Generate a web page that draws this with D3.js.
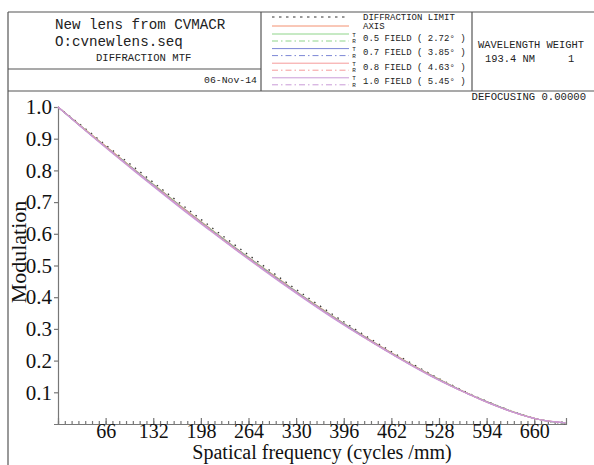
<!DOCTYPE html>
<html>
<head>
<meta charset="utf-8">
<script src="https://cdn.jsdelivr.net/npm/d3@7"></script>
<style>
  body { margin: 0; background: #fff; }
  svg { display: block; }
  .mono { font-family: "Liberation Mono", "Courier New", monospace; fill: #222; }
  .serif { font-family: "Liberation Serif", "Times New Roman", serif; fill: #111; }
</style>
</head>
<body>
<div id="chart"></div>
<script>
// spatial frequency (cycles/mm) where curves were read
const freqs = [0, 35, 70, 105, 140, 175, 210, 245, 280, 315, 350, 385, 420, 455, 490, 525, 560, 595, 630, 665, 703];

const diffLimit = [1, 0.937, 0.873, 0.811, 0.748, 0.686, 0.625, 0.565, 0.507, 0.449, 0.393, 0.339, 0.287, 0.238, 0.191, 0.147, 0.107, 0.071, 0.040, 0.015, 0.001];
const axisMtf   = [1, 0.934, 0.869, 0.805, 0.742, 0.679, 0.618, 0.558, 0.500, 0.443, 0.387, 0.334, 0.283, 0.234, 0.188, 0.145, 0.105, 0.070, 0.039, 0.015, 0.003];
const f05T = [1, 0.933, 0.868, 0.804, 0.741, 0.678, 0.617, 0.557, 0.499, 0.442, 0.386, 0.333, 0.282, 0.233, 0.187, 0.144, 0.104, 0.069, 0.039, 0.015, 0.003];
const f05R = [1, 0.934, 0.868, 0.804, 0.741, 0.678, 0.617, 0.557, 0.499, 0.442, 0.386, 0.333, 0.282, 0.233, 0.187, 0.144, 0.105, 0.070, 0.039, 0.015, 0.003];
const f07T = [1, 0.932, 0.867, 0.802, 0.739, 0.676, 0.615, 0.555, 0.497, 0.440, 0.384, 0.331, 0.281, 0.232, 0.186, 0.143, 0.104, 0.069, 0.038, 0.015, 0.003];
const f07R = [1, 0.933, 0.867, 0.803, 0.740, 0.677, 0.616, 0.556, 0.498, 0.441, 0.385, 0.332, 0.281, 0.233, 0.186, 0.144, 0.104, 0.069, 0.039, 0.015, 0.003];
const f08T = [1, 0.932, 0.866, 0.801, 0.737, 0.675, 0.613, 0.553, 0.495, 0.438, 0.383, 0.330, 0.279, 0.231, 0.185, 0.142, 0.103, 0.068, 0.038, 0.015, 0.004];
const f08R = [1, 0.933, 0.867, 0.802, 0.739, 0.676, 0.615, 0.555, 0.497, 0.440, 0.384, 0.331, 0.280, 0.232, 0.186, 0.143, 0.104, 0.069, 0.038, 0.015, 0.003];
const f10T = [1, 0.931, 0.864, 0.799, 0.735, 0.672, 0.611, 0.551, 0.493, 0.436, 0.381, 0.328, 0.278, 0.230, 0.184, 0.141, 0.103, 0.068, 0.038, 0.015, 0.004];
const f10R = [1, 0.932, 0.866, 0.801, 0.737, 0.674, 0.613, 0.553, 0.495, 0.438, 0.383, 0.330, 0.279, 0.231, 0.185, 0.142, 0.103, 0.068, 0.038, 0.015, 0.004];

const xTicks = [66, 132, 198, 264, 330, 396, 462, 528, 594, 660];
const yTicks = [0.1, 0.2, 0.3, 0.4, 0.5, 0.6, 0.7, 0.8, 0.9, 1.0];

const fieldLabels = ["0.5 FIELD ( 2.72\u00b0 )", "0.7 FIELD ( 3.85\u00b0 )", "0.8 FIELD ( 4.63\u00b0 )", "1.0 FIELD ( 5.45\u00b0 )"];
const fieldColors = ["#8fd48a", "#7b86d6", "#f59a9a", "#c99ad8"];
const axisColor = "#f39070";

const W = 594, H = 465;
const svg = d3.select("#chart").append("svg").attr("width", W).attr("height", H);

// ---- frame ----
const frame = svg.append("g").attr("stroke", "#555").attr("stroke-width", 1.2).attr("fill", "none");
frame.append("line").attr("x1", 8).attr("y1", 12).attr("x2", W).attr("y2", 12);
frame.append("line").attr("x1", 8).attr("y1", 12).attr("x2", 8).attr("y2", H);
frame.append("line").attr("x1", 8).attr("y1", 91).attr("x2", W).attr("y2", 91);
frame.append("line").attr("x1", 8).attr("y1", 69).attr("x2", 261).attr("y2", 69);
frame.append("line").attr("x1", 261).attr("y1", 12).attr("x2", 261).attr("y2", 91);
frame.append("line").attr("x1", 472).attr("y1", 12).attr("x2", 472).attr("y2", 91);

// ---- title block ----
svg.append("text").attr("class", "mono").attr("x", 55).attr("y", 29).style("font-size", "14.2px").text("New lens from CVMACR");
svg.append("text").attr("class", "mono").attr("x", 55).attr("y", 46).style("font-size", "14.2px").text("O:cvnewlens.seq");
svg.append("text").attr("class", "mono").attr("x", 96).attr("y", 61).style("font-size", "10.6px").text("DIFFRACTION MTF");
svg.append("text").attr("class", "mono").attr("x", 257).attr("y", 83).attr("text-anchor", "end").style("font-size", "9.8px").text("06-Nov-14");

// ---- legend ----
const lg = svg.append("g");
const lx1 = 272, lx2 = 349, tx = 363;
lg.append("line").attr("x1", lx1).attr("x2", lx2).attr("y1", 17).attr("y2", 17)
  .attr("stroke", "#333").attr("stroke-width", 1).attr("stroke-dasharray", "2.5,4.5");
lg.append("line").attr("x1", lx1).attr("x2", lx2).attr("y1", 26).attr("y2", 26)
  .attr("stroke", axisColor).attr("stroke-width", 1);
lg.append("text").attr("class", "mono").attr("x", tx).attr("y", 20).style("font-size", "9px").text("DIFFRACTION LIMIT");
lg.append("text").attr("class", "mono").attr("x", tx).attr("y", 28.5).style("font-size", "9px").text("AXIS");

fieldLabels.forEach((lab, i) => {
  const yT = 34 + i * 14.6, yR = yT + 7;
  lg.append("line").attr("x1", lx1).attr("x2", lx2).attr("y1", yT).attr("y2", yT)
    .attr("stroke", fieldColors[i]).attr("stroke-width", 1);
  lg.append("line").attr("x1", lx1).attr("x2", lx2).attr("y1", yR).attr("y2", yR)
    .attr("stroke", fieldColors[i]).attr("stroke-width", 1).attr("stroke-dasharray", "6,3,1.5,3");
  lg.append("text").attr("class", "mono").attr("x", 354).attr("y", yT + 2.5).attr("text-anchor", "middle").style("font-size", "6px").text("T");
  lg.append("text").attr("class", "mono").attr("x", 354).attr("y", yR + 2).attr("text-anchor", "middle").style("font-size", "6px").text("R");
  lg.append("text").attr("class", "mono").attr("x", tx).attr("y", yT + 6.5).style("font-size", "9px").text(lab);
});

svg.append("text").attr("class", "mono").attr("x", 478).attr("y", 48).style("font-size", "10.4px").text("WAVELENGTH  WEIGHT");
svg.append("text").attr("class", "mono").attr("x", 485).attr("y", 62).style("font-size", "10.4px").text("193.4 NM");
svg.append("text").attr("class", "mono").attr("x", 571).attr("y", 62).attr("text-anchor", "middle").style("font-size", "10.4px").text("1");
svg.append("text").attr("class", "mono").attr("x", 586).attr("y", 100).attr("text-anchor", "end").style("font-size", "10.6px").text("DEFOCUSING  0.00000");

// ---- plot ----
const x = d3.scaleLinear().domain([0, 704]).range([58, 566]);
const y = d3.scaleLinear().domain([0, 1]).range([424, 107]);

const xMinor = svg.append("g").attr("transform", "translate(0,424)")
  .call(d3.axisBottom(x).tickValues(d3.range(0, 704, 66 / 7)).tickSize(-3).tickFormat(""));
const xAxis = svg.append("g").attr("transform", "translate(0,424)")
  .call(d3.axisBottom(x).tickValues(xTicks).tickSize(-6).tickPadding(0));
const yAxis = svg.append("g").attr("transform", "translate(58,0)")
  .call(d3.axisLeft(y).tickValues(yTicks).tickSize(4).tickPadding(2).tickFormat(d3.format(".1f")));

[xMinor, xAxis, yAxis].forEach(g => {
  g.selectAll("path, line").attr("stroke", "#777").attr("stroke-width", 1.2);
  g.selectAll("text").attr("class", "serif").style("font-size", "21px").attr("fill", "#111");
});
xMinor.select("path").remove();
xAxis.selectAll("text").style("font-size", "20px");

const line = d3.line().x((d, i) => x(freqs[i])).y(d => y(d)).curve(d3.curveMonotoneX);

const curves = [
  { v: axisMtf, c: axisColor, dash: null },
  { v: f05T, c: fieldColors[0], dash: null },
  { v: f05R, c: fieldColors[0], dash: "6,3,1.5,3" },
  { v: f07T, c: fieldColors[1], dash: null },
  { v: f07R, c: fieldColors[1], dash: "6,3,1.5,3" },
  { v: f08T, c: fieldColors[2], dash: null },
  { v: f08R, c: fieldColors[2], dash: "6,3,1.5,3" },
  { v: f10T, c: fieldColors[3], dash: null },
  { v: f10R, c: fieldColors[3], dash: "6,3,1.5,3" }
];

svg.append("path").attr("d", line(diffLimit)).attr("fill", "none")
  .attr("stroke", "#333").attr("stroke-width", 1.3).attr("stroke-dasharray", "1.5,5.5");

svg.append("g").selectAll("path").data(curves).join("path")
  .attr("d", d => line(d.v))
  .attr("fill", "none")
  .attr("stroke", d => d.c)
  .attr("stroke-width", 1.1)
  .attr("stroke-dasharray", d => d.dash);

// axis titles
svg.append("text").attr("class", "serif").attr("x", 322).attr("y", 459).attr("text-anchor", "middle")
  .style("font-size", "20px").text("Spatical frequency (cycles /mm)");
svg.append("text").attr("class", "serif").attr("transform", "translate(26,252) rotate(-90)").attr("text-anchor", "middle")
  .style("font-size", "22px").text("Modulation");
</script>
</body>
</html>
